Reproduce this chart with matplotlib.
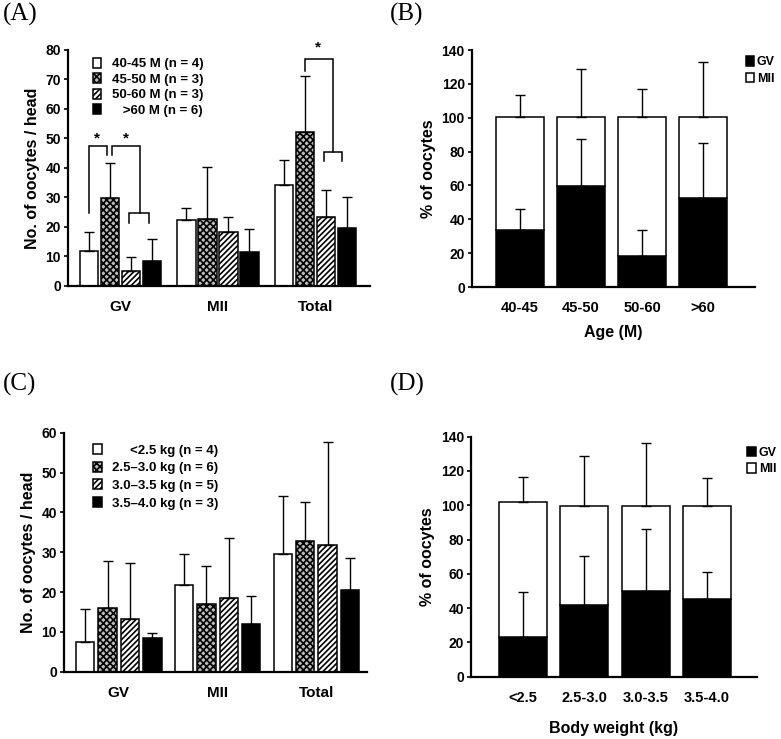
import matplotlib
matplotlib.use("Agg")
import matplotlib.pyplot as plt
import numpy as np

plt.rcParams['font.family'] = ['Liberation Sans', 'DejaVu Sans']
plt.rcParams['font.weight'] = 'bold'
plt.rcParams['axes.labelweight'] = 'bold'
plt.rcParams['hatch.linewidth'] = 1.2

# ---- data ----
stages = ['GV', 'MII', 'Total']

# (A) oocytes per head by age
age_labels = ['40-45 M (n = 4)', '45-50 M (n = 3)', '50-60 M (n = 3)', '   >60 M (n = 6)']
age_means = [
    [12.0, 22.5, 34.3],
    [29.8, 22.6, 52.2],
    [5.2, 18.3, 23.5],
    [8.5, 11.4, 19.8],
]
age_err = [
    [6.2, 4.0, 8.3],
    [11.9, 17.8, 19.0],
    [4.5, 5.2, 9.0],
    [7.4, 7.9, 10.5],
]

# (B) % of oocytes by age
age_ticks = ['40-45', '45-50', '50-60', '>60']
age_gv = [33.8, 59.4, 18.1, 52.5]
age_gv_err = [12.2, 28.1, 15.7, 32.8]
age_total = [100.5, 100.5, 100.5, 100.5]
age_mii_err = [12.8, 28.3, 16.5, 32.6]

# (C) oocytes per head by body weight
bw_labels = ['     <2.5 kg (n = 4)', '2.5\u20133.0 kg (n = 6)',
             '3.0\u20133.5 kg (n = 5)', '3.5\u20134.0 kg (n = 3)']
bw_means = [
    [7.5, 21.8, 29.5],
    [16.1, 16.9, 32.9],
    [13.3, 18.6, 31.8],
    [8.5, 12.0, 20.4],
]
bw_err = [
    [8.2, 7.7, 14.6],
    [11.8, 9.7, 9.8],
    [14.1, 14.9, 25.9],
    [1.2, 7.1, 8.1],
]

# (D) % of oocytes by body weight
bw_ticks = ['<2.5', '2.5-3.0', '3.0-3.5', '3.5-4.0']
bw_gv = [22.9, 41.8, 50.0, 45.1]
bw_gv_err = [26.7, 28.8, 35.9, 15.8]
bw_total = [102.1, 99.6, 99.6, 99.6]
bw_mii_err = [14.6, 29.3, 37.0, 16.1]

# ---- styles ----
series_style = [
    dict(facecolor='white', hatch=None),
    dict(facecolor='#bdbdbd', hatch='xxxxx'),
    dict(facecolor='white', hatch='//////'),
    dict(facecolor='black', hatch=None),
]
ERR_KW = dict(ecolor='black', elinewidth=1.0, capsize=3.5, capthick=1.0)

fig = plt.figure(figsize=(7.81, 7.39), dpi=100)


def style_axes(ax):
    for s in ['top', 'right']:
        ax.spines[s].set_visible(False)
    for s in ['left', 'bottom']:
        ax.spines[s].set_linewidth(1.6)
    ax.tick_params(axis='y', direction='out', length=3, width=1.2, labelsize=10, pad=2)
    ax.tick_params(axis='x', length=0, pad=10)


def grouped_panel(ax, means, errs, labels, step, width, ymax, ystep, leg_anchor, leg_space):
    x = np.arange(len(stages))
    for i, (m, e) in enumerate(zip(means, errs)):
        st = series_style[i]
        ax.bar(x + (i - 1.5) * step, m, width, color=st['facecolor'],
               edgecolor='black', linewidth=1.1, hatch=st['hatch'],
               yerr=[np.zeros(len(e)), e], error_kw=ERR_KW, label=labels[i],
               zorder=2)
    ax.set_ylim(0, ymax)
    ax.set_yticks(np.arange(0, ymax + 1, ystep))
    ax.set_xticks(x)
    ax.set_xticklabels(stages, fontsize=11)
    ax.set_ylabel('No. of oocytes / head', fontsize=11.5, labelpad=4)
    style_axes(ax)
    ax.legend(loc='upper left', bbox_to_anchor=leg_anchor, frameon=False,
              fontsize=9.5, handlelength=0.65, handleheight=0.8,
              handletextpad=0.8, labelspacing=leg_space, borderpad=0)


def stacked_panel(ax, ticks, gv, gv_err, total, mii_err, width, leg_anchor):
    x = np.arange(len(ticks))
    mii = [t - g for t, g in zip(total, gv)]
    ax.bar(x, gv, width, color='black', edgecolor='black', linewidth=1.1,
           label='GV', zorder=2)
    ax.bar(x, mii, width, bottom=gv, color='white', edgecolor='black',
           linewidth=1.1, label='MII', zorder=2)
    ax.errorbar(x, gv, yerr=[np.zeros(len(gv)), gv_err], fmt='none', zorder=3, **ERR_KW)
    eb = ax.errorbar(x, total, yerr=[np.zeros(len(total)), mii_err], fmt='none',
                     zorder=3, **ERR_KW)
    for art in eb.lines[1] + eb.lines[2]:
        art.set_clip_on(False)
    ax.set_ylim(0, 140)
    ax.set_yticks(np.arange(0, 141, 20))
    ax.set_xticks(x)
    ax.set_xticklabels(ticks, fontsize=10.5)
    ax.set_ylabel('% of oocytes', fontsize=11.5, labelpad=4)
    style_axes(ax)
    ax.legend(loc='upper left', bbox_to_anchor=leg_anchor, frameon=False,
              fontsize=9, handlelength=0.65, handleheight=0.8,
              handletextpad=0.25, labelspacing=0.35, borderpad=0)


def bracket(ax, x0, x1, y0, ytop, y1):
    ax.plot([x0, x0, x1, x1], [y0, ytop, ytop, y1], color='black', lw=1.1,
            solid_joinstyle='miter', clip_on=False, zorder=4)


# ---- (A) ----
A_STEP, A_W = 0.215, 0.19
axA = fig.add_axes([0.0871, 0.6130, 0.3867, 0.3194])
grouped_panel(axA, age_means, age_err, age_labels, A_STEP, A_W, 80, 10, (0.06, 0.995), 0.22)
axA.set_xlim(-0.536, 2.56)


def xa(g, i):
    return g + (i - 1.5) * A_STEP


bracket(axA, xa(0, 0), xa(0, 1) - 0.028, 24.6, 47.3, 44.4)
bracket(axA, xa(0, 1) + 0.024, 0.2, 44.4, 47.3, 24.6)
bracket(axA, xa(0, 2) - 0.016, xa(0, 3) - 0.03, 21.5, 24.6, 21.5)
bracket(axA, xa(2, 1), 2.183, 72.7, 77.0, 45.5)
bracket(axA, xa(2, 2) - 0.018, xa(2, 3) - 0.053, 42.5, 45.5, 42.5)
for (sx, sy) in [(-0.235, 50.0), (0.057, 50.0), (2.03, 80.8)]:
    axA.text(sx, sy, '*', ha='center', va='center', fontsize=11, clip_on=False)

# ---- (B) ----
axB = fig.add_axes([0.604, 0.6116, 0.3627, 0.3207])
stacked_panel(axB, age_ticks, age_gv, age_gv_err, age_total, age_mii_err, 0.776, (0.945, 1.0))
axB.set_xlim(-0.787, 3.85)
axB.set_xlabel('Age (M)', fontsize=11.5, labelpad=7)

# ---- (C) ----
axC = fig.add_axes([0.0819, 0.0911, 0.3876, 0.3234])
grouped_panel(axC, bw_means, bw_err, bw_labels, 0.227, 0.186, 60, 10, (0.075, 0.98), 0.38)
axC.set_xlim(-0.556, 2.51)

# ---- (D) ----
axD = fig.add_axes([0.603, 0.0843, 0.3662, 0.3248])
stacked_panel(axD, bw_ticks, bw_gv, bw_gv_err, bw_total, bw_mii_err, 0.784, (0.945, 0.985))
axD.set_xlim(-0.855, 3.82)
axD.set_xlabel('Body weight (kg)', fontsize=11.5, labelpad=12)

# ---- panel letters ----
for lbl, (px, py) in zip(['(A)', '(B)', '(C)', '(D)'],
                         [(3, 3), (390, 3), (3, 373), (390, 373)]):
    fig.text(px / 781, 1 - py / 739, lbl, ha='left', va='top', fontsize=18,
             family=['Liberation Serif', 'DejaVu Serif'], weight='normal')

fig.savefig('out.png', dpi=100)
